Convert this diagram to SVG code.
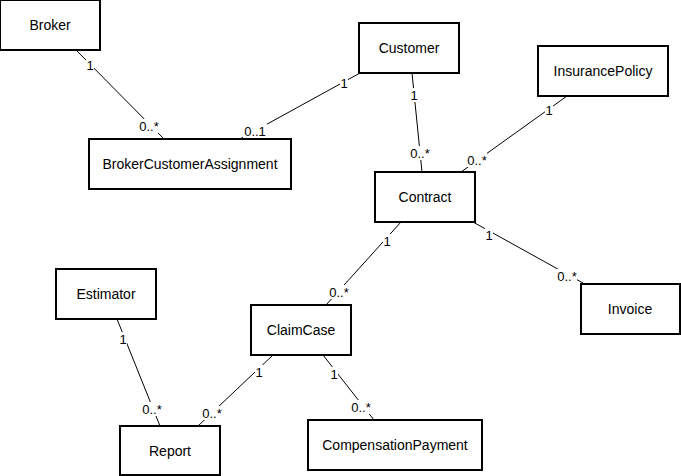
<svg xmlns="http://www.w3.org/2000/svg" width="681" height="476" viewBox="0 0 681 476">
<style>
.n rect{fill:#fff;stroke:#000;stroke-width:2}
.n text{font-family:"Liberation Sans",Arial,sans-serif;font-size:14px;text-anchor:middle;fill:#000}
.e line{stroke:#000;stroke-width:1}
.e rect{fill:#fff}
.e text{font-family:"Liberation Sans",Arial,sans-serif;font-size:13px;text-anchor:middle;fill:#000}
</style>
<rect width="681" height="476" fill="#fff"/>
<g id="connectors" class="e">
<line x1="76" y1="50" x2="164" y2="139"/>
<line x1="360" y1="73" x2="240" y2="139"/>
<line x1="412" y1="73" x2="422" y2="172"/>
<line x1="567" y1="96" x2="461" y2="172"/>
<line x1="401" y1="222" x2="326" y2="305"/>
<line x1="473" y1="222" x2="583" y2="283"/>
<line x1="117" y1="319" x2="160" y2="426"/>
<line x1="273" y1="355" x2="198" y2="426"/>
<line x1="323" y1="355" x2="374" y2="420"/>
<g id="lbl-bg">
<rect x="86" y="58" width="8" height="14"/>
<rect x="139" y="119" width="21" height="14"/>
<rect x="243" y="124" width="24" height="14"/>
<rect x="340" y="76" width="8" height="14"/>
<rect x="410" y="88" width="8" height="14"/>
<rect x="409" y="146" width="21" height="14"/>
<rect x="545" y="103" width="8" height="14"/>
<rect x="466" y="153" width="21" height="14"/>
<rect x="383" y="234" width="8" height="14"/>
<rect x="328" y="285" width="21" height="14"/>
<rect x="485" y="228" width="8" height="14"/>
<rect x="556" y="269" width="21" height="14"/>
<rect x="119" y="332" width="8" height="14"/>
<rect x="141" y="402" width="21" height="14"/>
<rect x="255" y="365" width="8" height="14"/>
<rect x="201" y="406" width="21" height="14"/>
<rect x="330" y="367" width="8" height="14"/>
<rect x="350" y="400" width="21" height="14"/>
</g>
<text x="90" y="70">1</text>
<text x="149" y="131">0..*</text>
<text x="255" y="136">0..1</text>
<text x="344" y="88">1</text>
<text x="414" y="100">1</text>
<text x="420" y="158">0..*</text>
<text x="549" y="115">1</text>
<text x="477" y="165">0..*</text>
<text x="387" y="246">1</text>
<text x="339" y="297">0..*</text>
<text x="489" y="240">1</text>
<text x="567" y="281">0..*</text>
<text x="123" y="344">1</text>
<text x="152" y="414">0..*</text>
<text x="259" y="377">1</text>
<text x="212" y="418">0..*</text>
<text x="334" y="379">1</text>
<text x="361" y="412">0..*</text>
</g>
<g id="Broker" class="n"><rect x="0" y="0" width="100" height="50"/><text x="50" y="30">Broker</text></g>
<g id="Customer" class="n"><rect x="359" y="23" width="100" height="50"/><text x="409" y="53">Customer</text></g>
<g id="InsurancePolicy" class="n"><rect x="538" y="46" width="130" height="50"/><text x="603" y="76">InsurancePolicy</text></g>
<g id="BrokerCustomerAssignment" class="n"><rect x="89" y="139" width="202" height="50"/><text x="190" y="169">BrokerCustomerAssignment</text></g>
<g id="Contract" class="n"><rect x="375" y="172" width="100" height="50"/><text x="425" y="202">Contract</text></g>
<g id="Estimator" class="n"><rect x="56" y="269" width="100" height="50"/><text x="106" y="299">Estimator</text></g>
<g id="ClaimCase" class="n"><rect x="251" y="305" width="100" height="50"/><text x="301" y="335">ClaimCase</text></g>
<g id="Invoice" class="n"><rect x="581" y="284" width="99" height="50"/><text x="630" y="314">Invoice</text></g>
<g id="Report" class="n"><rect x="120" y="426" width="100" height="49"/><text x="170" y="456">Report</text></g>
<g id="CompensationPayment" class="n"><rect x="308" y="420" width="174" height="50"/><text x="395" y="450">CompensationPayment</text></g>
</svg>
